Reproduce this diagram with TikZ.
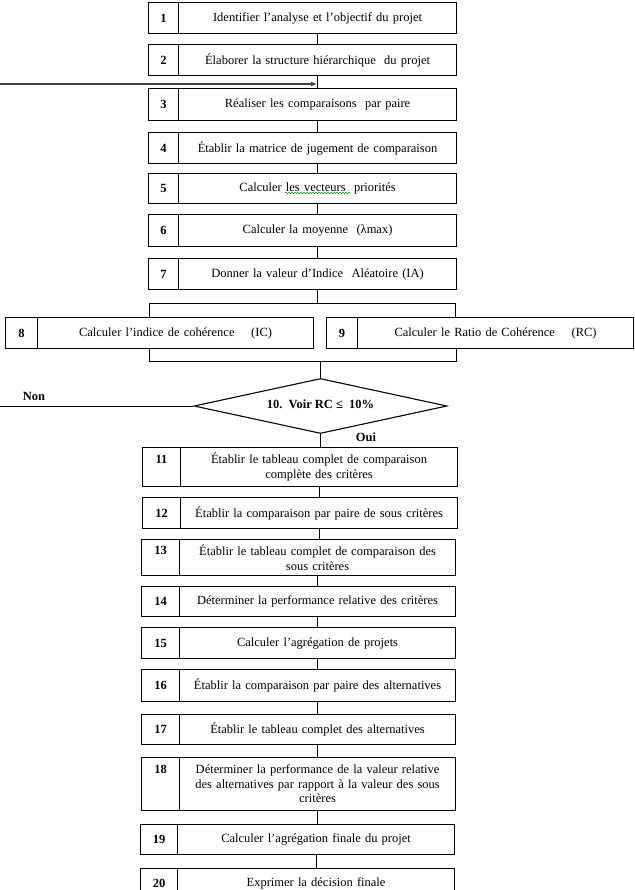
\documentclass[tikz,border=0pt]{standalone}
\usepackage{fontspec}
\setmainfont{Liberation Serif}
\usetikzlibrary{shapes.geometric,arrows.meta,decorations.pathmorphing}
\tikzset{
  cellbase/.style={draw=black, line width=1.1pt, inner sep=0pt, font=\fontsize{12.5}{14.5}\selectfont},
  numcell/.style={cellbase, align=center, font=\fontsize{12.5}{14.5}\selectfont\bfseries},
  textcell/.style={cellbase, align=center},
  link/.style={draw=black, line width=0.8pt},
  lbl/.style={font=\fontsize{12.5}{14}\selectfont\bfseries, inner sep=0pt},
}
\newcommand{\flowstep}[8]{%
  \pgfmathsetmacro\fsnw{#4-#3}%
  \pgfmathsetmacro\fstw{#5-#4}%
  \pgfmathsetmacro\fstt{#5-#4-8}%
  \pgfmathsetmacro\fsh{#7-#6}%
  \node[numcell, anchor=north west, minimum width=\fsnw pt, minimum height=\fsh pt] (#1n) at (#3,#6) {#2};
  \node[textcell, anchor=north west, minimum width=\fstw pt, minimum height=\fsh pt, text width=\fstt pt] (#1) at (#4,#6) {#8};
}
\begin{document}
\begin{tikzpicture}[x=1pt,y=-1pt]
\useasboundingbox[fill=white] (0,0) rectangle (634,890);
\clip (0,0) rectangle (634,890);

\flowstep{t1}{1}{148}{178}{456}{2}{33}{Identifier l’analyse et l’objectif du projet}
\flowstep{t2}{2}{148}{178}{456}{44}{75}{Élaborer la structure hiérarchique\ \ du projet}
\flowstep{t3}{3}{148}{178}{456}{88}{120}{Réaliser les comparaisons\ \ par paire}
\flowstep{t4}{4}{148}{178}{456}{132}{163}{Établir la matrice de jugement de comparaison}
\flowstep{t5}{5}{148}{178}{456}{173}{203}{Calculer les vecteurs\ \ priorités}
\flowstep{t6}{6}{148}{178}{456}{214}{246}{Calculer la moyenne\ \ (λmax)}
\flowstep{t7}{7}{148}{178}{456}{258}{289}{Donner la valeur d’Indice\ \ Aléatoire (IA)}
\flowstep{t8}{8}{5}{37}{313}{317}{348}{Calculer l’indice de cohérence\ \ \ \ (IC)}
\flowstep{t9}{9}{326}{357}{633}{317}{348}{Calculer le Ratio de Cohérence\ \ \ \ (RC)}

\node[diamond, draw=black, line width=1.1pt, inner sep=0pt, aspect=4.6,
      minimum width=253pt, minimum height=55pt, font=\fontsize{12.5}{14}\selectfont\bfseries]
      (dia) at (320.5,406) {\raisebox{3pt}{10.\ \ Voir RC ≤\ \ 10\%}};

\flowstep{t11}{11\\\mbox{}}{142}{180}{457}{447}{486}{Établir le tableau complet\ de comparaison\\complète des critères}
\flowstep{t12}{12}{142}{180}{457}{497}{528}{Établir la comparaison par paire de sous critères}
\flowstep{t13}{13\\\mbox{}}{141}{179}{455}{539}{575}{Établir le tableau complet de comparaison\ des\\sous critères}
\flowstep{t14}{14}{141}{179}{455}{586}{616}{Déterminer la performance\ relative des critères}
\flowstep{t15}{15}{141}{179}{455}{627}{658}{Calculer l’agrégation\ de projets}
\flowstep{t16}{16}{141}{179}{455}{669}{701}{Établir la\ comparaison par paire des alternatives}
\flowstep{t17}{17}{141}{179}{455}{714}{744}{Établir le tableau complet\ des alternatives}
\flowstep{t18}{18\\\mbox{}\\\mbox{}}{141}{179}{455}{757}{810}{Déterminer la performance\ de la valeur\ relative\\des alternatives par rapport\ à la valeur des sous\\critères}
\flowstep{t19}{19}{140}{177}{454}{824}{854}{Calculer l’agrégation\ finale du projet}
\flowstep{t20}{20}{140}{177}{454}{868}{897}{Exprimer la décision\ finale}

% vertical connectors
\draw[link] (t1.south) -- (t2.north);
\draw[link] (t2.south) -- (t3.north);
\draw[link] (t3.south) -- (t4.north);
\draw[link] (t4.south) -- (t5.north);
\draw[link] (t5.south) -- (t6.north);
\draw[link] (t6.south) -- (t7.north);

% split bracket
\coordinate (bl) at (149,303);
\coordinate (br) at (455,303);
\draw[link] (t7.south) -- (t7.south |- bl);
\draw[link] (bl |- t8.north) -- (bl) -- (br) -- (br |- t9.north);

% join bracket
\coordinate (cl) at (149,361);
\coordinate (cr) at (456,361);
\draw[link] (cl |- t8.south) -- (cl) -- (cr) -- (cr |- t9.south);
\draw[link] (dia.north |- cl) -- (dia.north);

% Non branch
\coordinate (nonend) at (0,406);
\draw[link] (dia.west) -- (nonend);
\node[lbl] (nonlbl) at (34,396) {Non};

% loop-back arrow into step 3
\coordinate (loopstart) at (0,84);
\coordinate (loopend) at (317,84);
\draw[line width=1.4pt, black!75, -{Latex[length=6pt,width=5pt]}] (loopstart) -- (loopend);

% Oui branch
\draw[link] (dia.south) -- (dia.south |- t11.north);
\node[lbl] (ouilbl) at (366,437) {Oui};

\draw[link] (t11.south) -- (t11.south |- t12.north);
\draw[link] (t12.south) -- (t12.south |- t13.north);
\draw[link] (t13.south) -- (t14.north);
\draw[link] (t14.south) -- (t15.north);
\draw[link] (t15.south) -- (t16.north);
\draw[link] (t16.south) -- (t17.north);
\draw[link] (t17.south) -- (t18.north);
\draw[link] (t18.south) -- (t18.south |- t19.north);
\draw[link] (t19.south) -- (t19.south |- t20.north);

% spell-check squiggle
\draw[green!60!black, line width=0.5pt, decorate, decoration={snake, amplitude=0.8pt, segment length=3pt}] (285,193) -- (350,193);
\end{tikzpicture}
\end{document}
